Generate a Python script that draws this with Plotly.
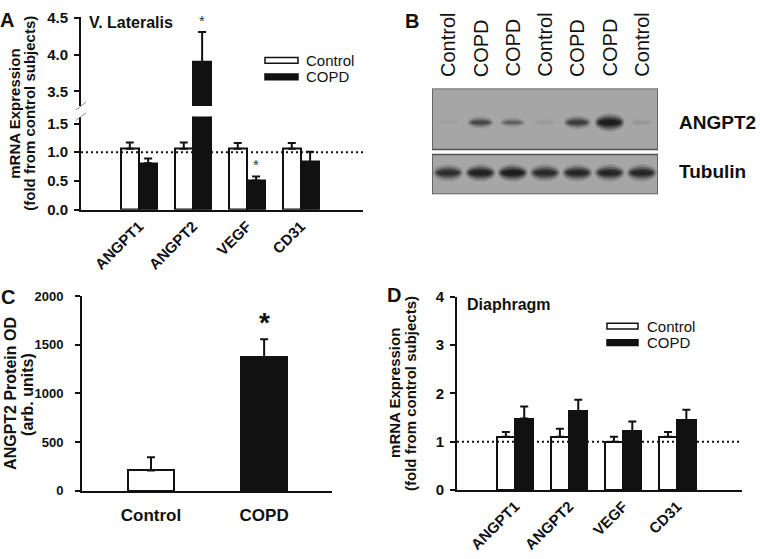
import plotly.graph_objects as go

W, H = 760, 559
FONT = "Liberation Sans, Arial, sans-serif"
INK = "#111111"

# ---------------- data ----------------
genes = ["ANGPT1", "ANGPT2", "VEGF", "CD31"]

# Panel A: V. Lateralis mRNA (fold from control)
vl_control = [1.06, 1.06, 1.06, 1.06]
vl_control_err = [0.11, 0.11, 0.10, 0.10]
vl_copd = [0.81, 3.90, 0.51, 0.83]
vl_copd_err = [0.08, 0.41, 0.07, 0.18]
vl_sig = [False, True, True, False]

# Panel B: western blot lanes and band intensities (0 = none, 1 = darkest)
lanes = ["Control", "COPD", "COPD", "Control", "COPD", "COPD", "Control"]
angpt2_band = [0.02, 0.45, 0.28, 0.03, 0.55, 0.95, 0.06]
tubulin_band = [0.70, 0.90, 0.95, 0.75, 0.80, 0.82, 0.80]
blot_rows = ["ANGPT2", "Tubulin"]

# Panel C: ANGPT2 protein OD
groups_c = ["Control", "COPD"]
od_mean = [210, 1370]
od_err = [135, 185]
od_sig = [False, True]

# Panel D: Diaphragm mRNA
dia_control = [1.10, 1.10, 1.00, 1.10]
dia_control_err = [0.10, 0.17, 0.10, 0.10]
dia_copd = [1.48, 1.63, 1.22, 1.45]
dia_copd_err = [0.25, 0.24, 0.20, 0.21]

reference_level = 1.0

# ---------------- helpers ----------------
def px(x):
    return x / W


def py(y):
    return 1 - y / H


def bold_font(size):
    return dict(family=FONT, size=size, color=INK, weight="bold")


fig = go.Figure()
idx = [i + 1 for i in range(len(genes))]
BW = 0.34


def add_pair(ctrl, ctrl_e, copd, copd_e, xa, ya):
    fig.add_trace(go.Bar(
        x=idx, y=ctrl, width=BW, offset=-BW, xaxis=xa, yaxis=ya,
        marker=dict(color="white", line=dict(color=INK, width=2)),
        error_y=dict(type="data", array=ctrl_e, arrayminus=[0] * len(ctrl),
                     symmetric=False, color=INK, thickness=2, width=4),
        showlegend=False, hoverinfo="skip"))
    fig.add_trace(go.Bar(
        x=idx, y=copd, width=BW, offset=0, xaxis=xa, yaxis=ya,
        marker=dict(color=INK, line=dict(color=INK, width=2)),
        error_y=dict(type="data", array=copd_e, arrayminus=[0] * len(copd),
                     symmetric=False, color=INK, thickness=2, width=4),
        showlegend=False, hoverinfo="skip"))


# Panel A (lower and upper segment of broken axis)
XA_RANGE = [-0.074, 5.15]
add_pair(vl_control, vl_control_err, vl_copd, vl_copd_err, "x", "y")
add_pair(vl_control, vl_control_err, vl_copd, vl_copd_err, "x", "y2")
fig.add_trace(go.Scatter(x=XA_RANGE, y=[reference_level] * 2, xaxis="x", yaxis="y",
                         mode="lines", line=dict(color=INK, width=2, dash="2px,3px"),
                         showlegend=False, hoverinfo="skip"))

# Panel D
XD_RANGE = [-0.074, 5.2]
add_pair(dia_control, dia_control_err, dia_copd, dia_copd_err, "x4", "y4")
fig.add_trace(go.Scatter(x=XD_RANGE, y=[reference_level] * 2, xaxis="x4", yaxis="y4",
                         mode="lines", line=dict(color=INK, width=2, dash="2px,3px"),
                         showlegend=False, hoverinfo="skip"))

# Panel C
fig.add_trace(go.Bar(
    x=[0, 1], y=od_mean, width=0.41, xaxis="x3", yaxis="y3",
    marker=dict(color=["white", INK], line=dict(color=INK, width=2)),
    error_y=dict(type="data", array=od_err, arrayminus=[0, 0], symmetric=False,
                 color=INK, thickness=2, width=4),
    showlegend=False, hoverinfo="skip"))

# Panel B blot axis (invisible) -- lane units on x, pixel-like units on y
fig.add_trace(go.Scatter(x=[0], y=[0], xaxis="x5", yaxis="y5", mode="markers",
                         marker=dict(opacity=0), showlegend=False, hoverinfo="skip"))

axis_common = dict(showgrid=False, zeroline=False, showline=True, linecolor=INK,
                   linewidth=2, ticks="outside", ticklen=5, tickwidth=2, tickcolor=INK)

fig.update_layout(
    width=W, height=H, autosize=False,
    margin=dict(l=0, r=0, t=0, b=0),
    paper_bgcolor="white", plot_bgcolor="rgba(0,0,0,0)",
    font=dict(family=FONT, color=INK),
    bargap=0,
    xaxis=dict(axis_common, domain=[px(81), px(363)], range=XA_RANGE, anchor="y",
               tickvals=idx, ticktext=genes, tickangle=-45, ticks="",
               tickfont=bold_font(15)),
    yaxis=dict(axis_common, domain=[py(207), py(111)], range=[0, 1.62], anchor="x",
               tickvals=[0, 0.5, 1.0, 1.5], ticktext=["0.0", "0.5", "1.0", "1.5"],
               tickfont=bold_font(15), ticklabelstandoff=3),
    yaxis2=dict(axis_common, domain=[py(100), py(8)], range=[3.3, 4.52], anchor="x",
                tickvals=[3.5, 4.0, 4.5], ticktext=["3.5", "4.0", "4.5"],
                tickfont=bold_font(15), ticklabelstandoff=3),
    xaxis3=dict(axis_common, domain=[px(82), px(332)], range=[-0.61, 1.6], anchor="y3",
                tickvals=[0, 1], ticktext=groups_c, ticks="", tickfont=bold_font(17),
                ticklabelstandoff=8),
    yaxis3=dict(axis_common, domain=[py(497), py(296)], range=[0, 2000], anchor="x3",
                tickvals=[0, 500, 1000, 1500, 2000], tickfont=bold_font(13),
                ticklabelstandoff=9),
    xaxis4=dict(axis_common, domain=[px(457), px(742)], range=XD_RANGE, anchor="y4",
                tickvals=idx, ticktext=genes, tickangle=-45, ticks="",
                tickfont=bold_font(15)),
    yaxis4=dict(axis_common, domain=[py(496), py(297)], range=[0, 4], anchor="x4",
                tickvals=[0, 1, 2, 3, 4], tickfont=bold_font(15), ticklabelstandoff=3),
    xaxis5=dict(domain=[px(432), px(658)], range=[-0.5, len(lanes) - 0.5], anchor="y5",
                visible=False),
    yaxis5=dict(domain=[py(191), py(82)], range=[0, 109], anchor="x5", visible=False),
)

shapes = []
ann = []

# ---------- Panel B blot drawing ----------
LANE_PX = 226 / len(lanes)
blot_panels = [(46, 109), (0, 41)]        # y ranges (blot units) of the two membranes
row_center = [74, 22]                     # band centre per row
for (y0, y1) in blot_panels:
    shapes.append(dict(type="rect", xref="x5", yref="y5", x0=-0.5, x1=len(lanes) - 0.5,
                       y0=y0, y1=y1, fillcolor="#a6a6a6",
                       line=dict(color="#505050", width=1.5), layer="above"))


def add_band(lane, yc, w_px, h_px, intensity):
    for ws, hs, op in [(1.12, 1.6, 0.22), (1.0, 1.15, 0.40), (0.9, 0.75, 0.60),
                       (0.75, 0.45, 0.70)]:
        w = w_px * ws / LANE_PX / 2
        h = h_px * hs / 2
        shapes.append(dict(type="circle", xref="x5", yref="y5",
                           x0=lane - w, x1=lane + w, y0=yc - h, y1=yc + h,
                           fillcolor="#141414", opacity=min(1.0, op * intensity),
                           line=dict(width=0), layer="above"))


for i, v in enumerate(angpt2_band):
    add_band(i, row_center[0], 21 + 6 * v, 5 + 7 * v, v)
for i, v in enumerate(tubulin_band):
    add_band(i, row_center[1], 27, 11, v)

for i, name in enumerate(lanes):
    ann.append(dict(text=name, xref="x5", yref="paper", x=i, y=py(72),
                    xanchor="center", yanchor="bottom", textangle=-90, showarrow=False,
                    font=dict(family=FONT, size=20, color=INK)))
for name, ycen in zip(blot_rows, [117, 168]):
    ann.append(dict(text=name, xref="paper", yref="paper", x=px(677), y=py(ycen),
                    xanchor="left", yanchor="middle", showarrow=False,
                    font=bold_font(19)))

# ---------- panel letters ----------
for letter, (lx, ly) in zip("ABCD", [(7, 11), (412, 12), (8, 297), (394, 295)]):
    ann.append(dict(text=letter, xref="paper", yref="paper", x=px(lx), y=py(ly),
                    xanchor="center", yanchor="middle", showarrow=False,
                    font=bold_font(20)))

# ---------- axis titles ----------
def vtitle(text, cx, cy, size):
    ann.append(dict(text=text, xref="paper", yref="paper", x=px(cx), y=py(cy),
                    xanchor="center", yanchor="middle", textangle=-90, showarrow=False,
                    font=bold_font(size)))


vtitle("mRNA Expression", 15, 108, 15)
vtitle("(fold from control subjects)", 30, 108, 15)
vtitle("ANGPT2 Protein OD", 11, 397, 16)
vtitle("(arb. units)", 28, 397, 16)
vtitle("mRNA Expression", 395, 396, 15)
vtitle("(fold from control subjects)", 411, 396, 15)

# ---------- panel subtitles ----------
ann.append(dict(text="V. Lateralis", xref="paper", yref="paper", x=px(87), y=py(14),
                xanchor="left", yanchor="middle", showarrow=False, font=bold_font(16)))
ann.append(dict(text="Diaphragm", xref="paper", yref="paper", x=px(465), y=py(305),
                xanchor="left", yanchor="middle", showarrow=False, font=bold_font(16)))

# ---------- legends (drawn) ----------
def legend(x0, x1, yc_ctrl, yc_copd, tx):
    for yc, fill, label in [(yc_ctrl, "white", "Control"), (yc_copd, INK, "COPD")]:
        shapes.append(dict(type="rect", xref="paper", yref="paper",
                           x0=px(x0), x1=px(x1), y0=py(yc + 3), y1=py(yc - 3),
                           fillcolor=fill, line=dict(color=INK, width=1.5)))
        ann.append(dict(text=label, xref="paper", yref="paper", x=px(tx), y=py(yc),
                        xanchor="left", yanchor="middle", showarrow=False,
                        font=dict(family=FONT, size=15, color=INK)))


legend(265, 298, 53, 70, 304)
legend(607, 638, 327, 344, 645)

# ---------- significance stars ----------
for i, s in enumerate(vl_sig):
    if s:
        top = vl_copd[i] + vl_copd_err[i]
        ann.append(dict(text="*", xref="x", yref="y2" if top > 3.3 else "y",
                        x=idx[i] + BW / 2, y=top, xanchor="center", yanchor="middle",
                        yshift=12, showarrow=False,
                        font=dict(family=FONT, size=15, color="#333333")))
for i, s in enumerate(od_sig):
    if s:
        ann.append(dict(text="*", xref="x3", yref="y3", x=i, y=od_mean[i] + od_err[i],
                        xanchor="center", yanchor="middle", yshift=17, showarrow=False,
                        font=bold_font(28)))

# ---------- axis break marks (panel A) ----------
for (ax0, ay0, ax1, ay1) in [(76, 104, 86, 96), (76, 115, 86, 107)]:
    shapes.append(dict(type="line", xref="paper", yref="paper",
                       x0=px(ax0), y0=py(ay0), x1=px(ax1), y1=py(ay1),
                       line=dict(color="#8a8a8a", width=1)))

fig.update_layout(shapes=shapes, annotations=ann)
fig.write_html("out.html",
               config={"displayModeBar": False},
               post_script="document.body.style.margin='0px';"
                           "document.body.style.overflow='hidden';")
